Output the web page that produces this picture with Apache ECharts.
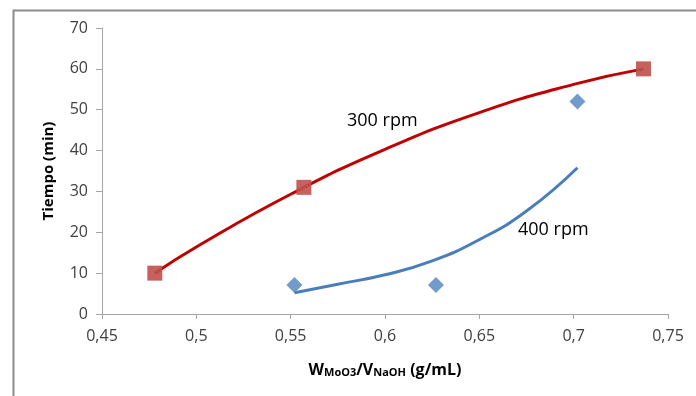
<!DOCTYPE html>
<html lang="es">
<head>
    <meta charset="UTF-8">
    <script src="https://cdn.jsdelivr.net/npm/echarts@6/dist/echarts.min.js"></script>
    <title>Tiempo vs W/V</title>
    <style>
        html, body { margin: 0; padding: 0; background: #fff; }
        #main { width: 696px; height: 396px; }
    </style>
</head>
<body>
    <div id="main"></div>
    <script>
        // measured points, 300 rpm (squares)
        var pts300 = [[0.478, 10], [0.557, 31], [0.737, 60]];
        // trend curve, 300 rpm
        var curve300 = [[0.478, 10], [0.5, 16.4], [0.55, 29.3], [0.6, 40.3], [0.65, 49.3], [0.7, 56.2], [0.737, 60]];
        // measured points, 400 rpm (diamonds)
        var pts400 = [[0.552, 7.1], [0.627, 7.1], [0.702, 52]];
        // trend curve, 400 rpm
        var curve400 = [[0.552, 5.2], [0.575, 7.3], [0.6, 9.6], [0.625, 13.0], [0.65, 18.2], [0.675, 25.2], [0.702, 35.8]];

        var xMin = 0.45, xMax = 0.75, xStep = 0.05;
        var yMin = 0, yMax = 70, yStep = 10;

        var font = '"Open Sans", "Noto Sans", sans-serif';
        var axisGray = '#a6a6a6';

        var chart = echarts.init(document.getElementById('main'));

        var option = {
            animation: false,
            backgroundColor: '#fff',
            grid: { left: 102, right: 28, top: 28, bottom: 82 },
            xAxis: {
                type: 'value',
                min: xMin, max: xMax, interval: xStep,
                axisLine: { lineStyle: { color: axisGray, width: 1 } },
                axisTick: { show: true, length: 5, lineStyle: { color: axisGray } },
                splitLine: { show: false },
                axisLabel: {
                    color: '#404040', fontFamily: font, fontSize: 16, margin: 14,
                    formatter: function (v) { return parseFloat(v.toFixed(2)).toString().replace('.', ','); }
                },
                name: '{b|W}{s|MoO3}{b|/V}{s|NaOH}{b| (g/mL)}',
                nameLocation: 'middle',
                nameGap: 44,
                nameTextStyle: {
                    rich: {
                        b: { fontFamily: font, fontWeight: 'bold', fontSize: 16, color: '#000', verticalAlign: 'bottom', lineHeight: 20 },
                        s: { fontFamily: font, fontWeight: 'bold', fontSize: 11, color: '#000', verticalAlign: 'bottom', lineHeight: 14 }
                    }
                }
            },
            yAxis: {
                type: 'value',
                min: yMin, max: yMax, interval: yStep,
                axisLine: { show: true, lineStyle: { color: axisGray, width: 1 } },
                axisTick: { show: true, length: 6, lineStyle: { color: axisGray } },
                splitLine: { show: false },
                axisLabel: { color: '#404040', fontFamily: font, fontSize: 16, margin: 14 },
                name: 'Tiempo (min)',
                nameLocation: 'middle',
                nameGap: 46,
                nameTextStyle: { fontFamily: font, fontWeight: 'bold', fontSize: 15, color: '#000' }
            },
            series: [
                {
                    name: '300 rpm fit', type: 'line', data: curve300, smooth: true,
                    showSymbol: false, z: 3,
                    lineStyle: { color: '#c00000', width: 3 }
                },
                {
                    name: '300 rpm', type: 'scatter', data: pts300, symbol: 'rect', symbolSize: 15, z: 4,
                    itemStyle: { color: '#c0504d', opacity: 0.9 }
                },
                {
                    name: '400 rpm fit', type: 'line', data: curve400, smooth: true,
                    showSymbol: false, z: 3,
                    lineStyle: { color: '#4a7ebb', width: 3 }
                },
                {
                    name: '400 rpm', type: 'scatter', data: pts400, symbol: 'diamond', symbolSize: 16, z: 4,
                    itemStyle: { color: '#4f81bd' }
                }
            ],
            graphic: [
                {
                    type: 'rect', left: 11, top: 8, silent: true,
                    shape: { width: 720, height: 420 },
                    style: { fill: 'none', stroke: '#8c8c8c', lineWidth: 2 }
                },
                {
                    type: 'text', left: 347, top: 112,
                    style: { text: '300 rpm', font: '18px "Open Sans", "Noto Sans", sans-serif', fill: '#000' }
                },
                {
                    type: 'text', left: 518, top: 221,
                    style: { text: '400 rpm', font: '18px "Open Sans", "Noto Sans", sans-serif', fill: '#000' }
                }
            ]
        };

        chart.setOption(option);
    </script>
</body>
</html>
